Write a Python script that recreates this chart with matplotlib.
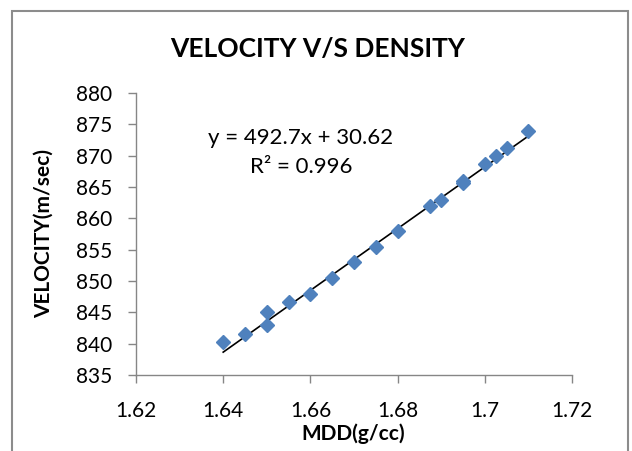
import matplotlib
matplotlib.use("Agg")
import matplotlib.pyplot as plt
from matplotlib.patches import Rectangle
import numpy as np

plt.rcParams['font.family'] = ['Lato', 'DejaVu Sans']

mdd = [1.640, 1.645, 1.650, 1.650, 1.655, 1.660, 1.665, 1.670, 1.675, 1.680,
       1.6875, 1.690, 1.695, 1.695, 1.700, 1.7025, 1.705, 1.710]
velocity = [840.2, 841.6, 845.0, 843.0, 846.6, 848.0, 850.5, 853.0, 855.5, 858.0,
            862.0, 863.0, 866.0, 865.7, 868.6, 870.0, 871.3, 874.0]
slope = 492.7
intercept = 30.62
r2 = 0.996
x_ticks = [1.62, 1.64, 1.66, 1.68, 1.70, 1.72]
x_tick_labels = ["1.62", "1.64", "1.66", "1.68", "1.7", "1.72"]
y_ticks = [835, 840, 845, 850, 855, 860, 865, 870, 875, 880]

fig = plt.figure(figsize=(6.32, 4.51), dpi=100)
ax = fig.add_axes([136/632, 1-375/451, (572-136)/632, (375-93)/451])

xs = np.array([min(mdd), max(mdd)])
ax.plot(xs, slope*xs + intercept, color='black', lw=1.2, zorder=2)
ax.plot(mdd, velocity, linestyle='none', marker='D', markersize=6.8,
        color='#4F81BD', markeredgecolor='#4F81BD', zorder=3)

ax.set_xlim(1.62, 1.72)
ax.set_ylim(835, 880)
ax.set_xticks(x_ticks)
ax.set_xticklabels(x_tick_labels)
ax.set_yticks(y_ticks)
for s in ['top', 'right']:
    ax.spines[s].set_visible(False)
for s in ['left', 'bottom']:
    ax.spines[s].set_color('#868686')
    ax.spines[s].set_linewidth(1.0)
ax.tick_params(axis='both', colors='#868686', labelcolor='black', labelsize=15,
               length=6, width=1.0, direction='out')
ax.tick_params(axis='x', pad=13)
ax.tick_params(axis='y', pad=11)

ax.set_xlabel('MDD(g/cc)', fontsize=15, fontweight='bold')
ax.xaxis.set_label_coords((353-136)/436, (375-423)/282)
ax.set_ylabel('VELOCITY(m/sec)', fontsize=15, fontweight='bold')
ax.yaxis.set_label_coords((54-136)/436, 0.5)

fig.text(318/632, 1-49/451, 'VELOCITY V/S DENSITY', fontsize=19, fontweight='bold',
         ha='center', va='center')

ax.text((301-136)/436, (375-138)/282, f'y = {slope}x + {intercept}', transform=ax.transAxes,
        fontsize=16, ha='center', va='center')
ax.text((301-136)/436, (375-167)/282, f'R² = {r2}', transform=ax.transAxes,
        fontsize=16, ha='center', va='center')

fig.patches.append(Rectangle((12/632, -0.1), (628-12)/632, 1.1 - 11/451,
                             transform=fig.transFigure, fill=False,
                             edgecolor='#8c8c8c', lw=1.5, clip_on=False))

fig.savefig('out.png', dpi=100, facecolor='white')
